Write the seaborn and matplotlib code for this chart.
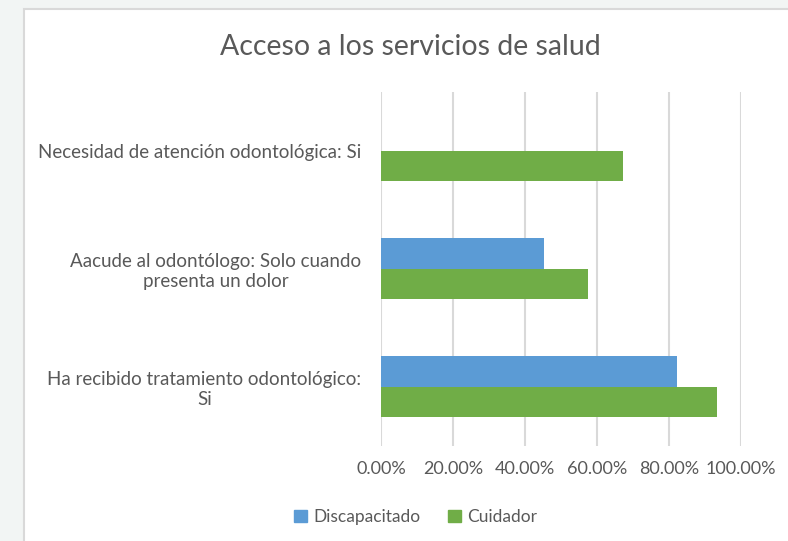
import numpy as np
import pandas as pd
import matplotlib
matplotlib.use("Agg")
import matplotlib.pyplot as plt
from matplotlib.patches import Rectangle
from matplotlib.ticker import FuncFormatter
import seaborn as sns

categorias = ["Necesidad de atención odontológica: Si",
              "Aacude al odontólogo: Solo cuando\npresenta un dolor",
              "Ha recibido tratamiento odontológico:\nSi"]
discapacitado = [np.nan, 0.452, 0.822]
cuidador = [0.672, 0.576, 0.935]
series = ["Discapacitado", "Cuidador"]
colores = ["#5b9bd5", "#70ad47"]

df = pd.DataFrame({
    "Categoria": categorias * 2,
    "Valor": discapacitado + cuidador,
    "Grupo": [series[0]] * 3 + [series[1]] * 3,
})

sns.set_theme(style="white")
plt.rcParams["font.family"] = ["Lato", "DejaVu Sans"]
txt = "#595959"

fig = plt.figure(figsize=(7.88, 5.41), dpi=100, facecolor="#f2f5f4")
# white chart area with light border (behind everything)
fig.patches.append(Rectangle((24 / 788, -0.05), 1.0, 1 - 9 / 541 + 0.05,
                             transform=fig.transFigure, facecolor="white",
                             edgecolor="#d9d9d9", linewidth=1.5, zorder=-10))

ax = fig.add_axes([381 / 788, 1 - 445.7 / 541, (740.7 - 381) / 788, (445.7 - 91.7) / 541])
ax.set_facecolor("none")
sns.barplot(data=df, y="Categoria", x="Valor", hue="Grupo", order=categorias,
            hue_order=series, palette=colores, orient="h", width=0.52,
            saturation=1, linewidth=0, ax=ax, legend=False)

ax.set_xlim(0, 1.0)
ax.set_xticks([0, 0.2, 0.4, 0.6, 0.8, 1.0])
ax.xaxis.set_major_formatter(FuncFormatter(lambda v, p: f"{v * 100:.2f}%"))
ax.grid(axis="x", color="#d9d9d9", linewidth=1.5)
ax.set_axisbelow(True)
for s in ax.spines.values():
    s.set_visible(False)
ax.set_xlabel("")
ax.set_ylabel("")
ax.tick_params(axis="x", colors=txt, labelsize=13, length=0, pad=11)
ax.tick_params(axis="y", colors=txt, labelsize=13.5, length=0, pad=14)
for lab in ax.get_yticklabels():
    lab.set_multialignment("center")

fig.text(410 / 788, 1 - 47 / 541, "Acceso a los servicios de salud", ha="center",
         va="center", fontsize=20.5, color=txt)

handles = [Rectangle((0, 0), 1, 1, color=c) for c in colores]
fig.legend(handles, series, loc="center", bbox_to_anchor=(416 / 788, 1 - 517 / 541),
           ncol=2, frameon=False, fontsize=12.5, handlelength=0.7, handleheight=0.7,
           handletextpad=0.4, columnspacing=1.6, labelcolor=txt)

fig.savefig("out.png", dpi=100, facecolor=fig.get_facecolor())
